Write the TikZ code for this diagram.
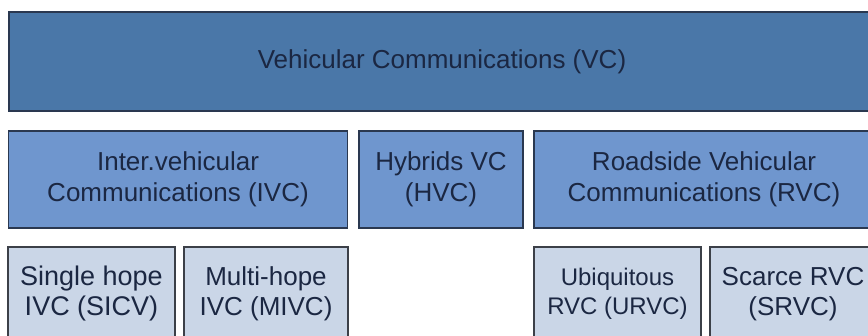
\documentclass[tikz,border=0pt]{standalone}
\usepackage{fontspec}
\setmainfont{Liberation Sans}
\definecolor{vcfill}{HTML}{4A77A8}
\definecolor{midfill}{HTML}{6F96CE}
\definecolor{leaffill}{HTML}{CAD6E7}
\definecolor{navyline}{HTML}{2A3850}
\definecolor{greyline}{HTML}{3C4048}
\definecolor{labeltext}{HTML}{1B2742}
\begin{document}
\begin{tikzpicture}[x=1pt,y=1pt,
  box/.style={rectangle, inner sep=0pt, outer sep=0pt, line width=1.6pt,
    align=center, text=labeltext, font=\fontsize{26}{31}\selectfont},
  rootbox/.style={box, fill=vcfill, draw=navyline},
  classbox/.style={box, fill=midfill, draw=navyline},
  leafbox/.style={box, fill=leaffill, draw=greyline, font=\fontsize{26}{30}\selectfont}]
  \useasboundingbox (0,0) rectangle (868,-335);
  \clip (0,0) rectangle (868,-335);
  \fill[white] (0,0) rectangle (868,-335);

  % top level
  \node[rootbox, minimum width=866, minimum height=99] (vc) at (442,-61.5)
    {Vehicular Communications (VC)};

  % second level
  \node[classbox, minimum width=339, minimum height=97] (ivc) at (178,-179.5)
    {Inter.vehicular\\Communications (IVC)};
  \node[classbox, minimum width=164, minimum height=97] (hvc) at (441,-179.5)
    {Hybrids VC\\(HVC)};
  \node[classbox, minimum width=340, minimum height=97] (rvc) at (704,-179.5)
    {Roadside Vehicular\\Communications (RVC)};

  % third level
  \node[leafbox, minimum width=167, minimum height=94, font=\fontsize{27}{30}\selectfont]
    (sicv) at (91.5,-294) {Single hope\\IVC (SICV)};
  \node[leafbox, minimum width=164, minimum height=94] (mivc) at (266,-294)
    {Multi-hope\\IVC (MIVC)};
  \node[leafbox, minimum width=167, minimum height=94, font=\fontsize{24}{29}\selectfont]
    (urvc) at (617.5,-294) {Ubiquitous\\RVC (URVC)};
  \node[leafbox, minimum width=166, minimum height=94] (srvc) at (793,-294)
    {Scarce RVC\\(SRVC)};
\end{tikzpicture}
\end{document}
